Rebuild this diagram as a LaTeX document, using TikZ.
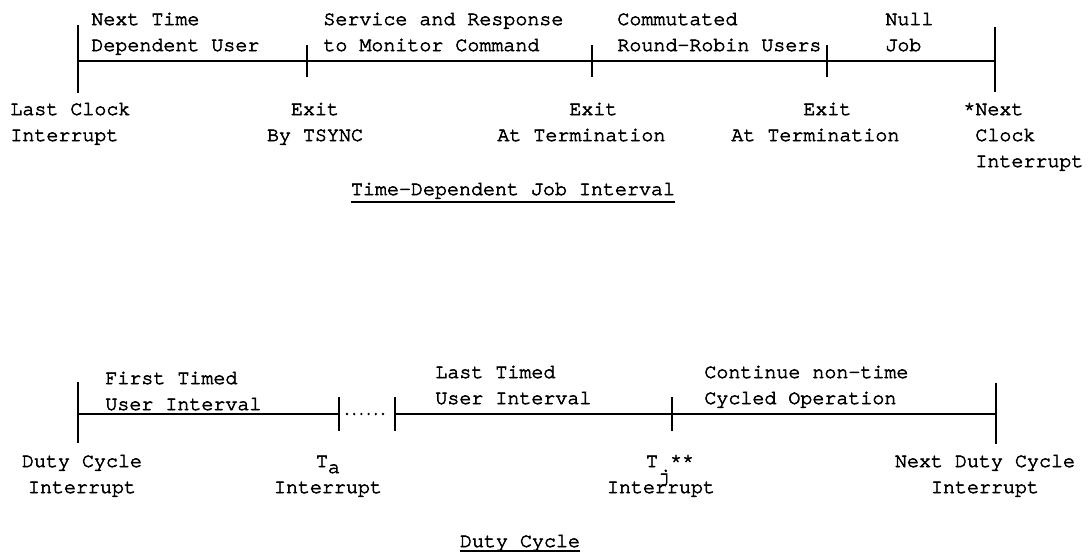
\documentclass[tikz,border=0pt]{standalone}
\usepackage{fontspec}
\newfontfamily\typer[FakeBold=3]{TeX Gyre Cursor}
\usetikzlibrary{calc}

\begin{document}
\begin{tikzpicture}[x=0.5pt, y=-0.5pt, line cap=butt,
  lbl/.style={font=\typer\fontsize{10}{13}\selectfont, inner sep=0pt, align=left},
  clbl/.style={lbl, align=center},
  axis/.style={line width=1pt},
  tick/.style={line width=1.4pt}]
  \useasboundingbox (0,0) rectangle (1089,554);
  % time-dependent job interval
  \coordinate (A0) at (78,61);
  \coordinate (A1) at (307,61);
  \coordinate (A2) at (592,61);
  \coordinate (A3) at (827,61);
  \coordinate (A4) at (995,61);
  \draw[axis] (A0) -- (A4);
  \draw[tick] (A0) ++(0,-36) -- ++(0,68);
  \draw[tick] (A4) ++(0,-34) -- ++(0,65);
  \foreach \c in {A1,A2,A3}
    \draw[tick] (\c) ++(0,-16) -- ++(0,32);
  % labels sit on the baseline of their last line
  \node[lbl, anchor=base west] (nextuser) at (91,51) {Next Time\\Dependent User};
  \node[lbl, anchor=base west] (service) at (323,51) {Service and Response\\to Monitor Command};
  \node[lbl, anchor=base west] (robin) at (617,51) {Commutated\\Round-Robin Users};
  \node[lbl, anchor=base west] (null) at (885,51) {Null\\Job};
  \node[lbl, anchor=base west] (lastclk) at (10,141) {Last Clock\\Interrupt};
  \node[clbl, anchor=base] (tsync) at (315,141) {Exit\\By TSYNC};
  \node[lbl, anchor=base west] (term1) at (497,141) {\phantom{At Ter}Exit\\At Termination};
  \node[lbl, anchor=base west] (term2) at (731,141) {\phantom{At Ter}Exit\\At Termination};
  \node[lbl, anchor=base west] (nextclk) at (963,167) {*Next\\\phantom{*}Clock\\\phantom{*}Interrupt};
  \node[lbl, anchor=base] (tdtitle) at (513,195) {Time-Dependent Job Interval};
  \draw[axis] ([yshift=-3.5pt]tdtitle.base west) -- ([yshift=-3.5pt]tdtitle.base east);

  % duty cycle
  \coordinate (B0) at (78,414);
  \coordinate (B1) at (339,414);
  \coordinate (B2) at (395,414);
  \coordinate (B3) at (672,414);
  \coordinate (B4) at (996,414);
  \draw[axis] (B0) -- (B1);
  \draw[axis] (B2) -- (B4);
  \draw[line width=1.3pt, line cap=round, dash pattern=on 0pt off 3.6pt]
    ($(B1)+(8,0)$) -- ($(B2)+(-5,0)$);
  \draw[tick] (B0) ++(0,-32) -- ++(0,61);
  \draw[tick] (B4) ++(0,-31) -- ++(0,61);
  \foreach \c in {B1,B2,B3}
    \draw[tick] (\c) ++(0,-17) -- ++(0,34);
  \node[lbl, anchor=base west] (firstuser) at (105,410) {First Timed\\User Interval};
  \node[lbl, anchor=base west] (lastuser) at (435,404) {Last Timed\\User Interval};
  \node[lbl, anchor=base west] (nontime) at (704,404) {Continue non-time\\Cycled Operation};
  \node[clbl, anchor=base] (dcint) at (82,493) {Duty Cycle\\Interrupt};
  \node[clbl, anchor=base] (taint) at (328,493) {T\raisebox{-3pt}[0pt][0pt]{a}\\Interrupt};
  \node[clbl, anchor=base] (tjint) at (661,493) {\hspace*{0.9em}T\raisebox{-7.5pt}[0pt][0pt]{j}**\\Interrupt};
  \node[clbl, anchor=base] (nextdc) at (985,493) {Next Duty Cycle\\Interrupt};
  \node[lbl, anchor=base] (dctitle) at (520,547) {Duty Cycle};
  \draw[axis] ([yshift=-1.8pt]dctitle.base west) -- ([yshift=-1.8pt]dctitle.base east);
\end{tikzpicture}
\end{document}
